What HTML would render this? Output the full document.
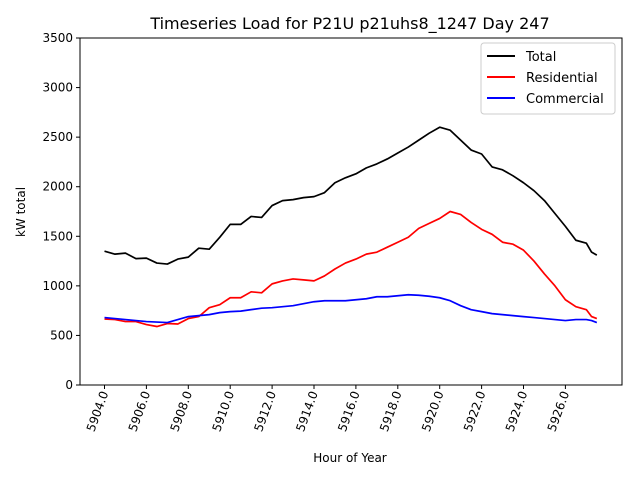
<!DOCTYPE html>
<html><head><meta charset="utf-8"><style>
body{margin:0;background:#fff;}
svg{font-family:"DejaVu Sans","Liberation Sans",sans-serif;}
</style></head><body>
<svg id="chart" width="640" height="480">
<rect width="640" height="480" fill="#fff"/>
<text x="350" y="29" font-size="16" text-anchor="middle">Timeseries Load for P21U p21uhs8_1247  Day 247</text>
<g id="plot"></g>
<text x="350" y="462" font-size="12" text-anchor="middle">Hour of Year</text>
<text transform="translate(25,212) rotate(-90)" font-size="12" text-anchor="middle">kW total</text>
<g>
<rect x="481" y="43" width="134" height="71" fill="#fff" stroke="#ccc" rx="3"/>
<g><line x1="487" y1="56" x2="515" y2="56" stroke="#000" stroke-width="2"/><text x="526" y="61" font-size="13">Total</text></g>
<g><line x1="487" y1="77" x2="515" y2="77" stroke="#f00" stroke-width="2"/><text x="526" y="82" font-size="13">Residential</text></g>
<g><line x1="487" y1="98" x2="515" y2="98" stroke="#00f" stroke-width="2"/><text x="526" y="103" font-size="13">Commercial</text></g>
</g>
</svg>
<script>
const hours=[5904,5904.5,5905,5905.5,5906,5906.5,5907,5907.5,5908,5908.5,5909,5909.5,5910,5910.5,5911,5911.5,5912,5912.5,5913,5913.5,5914,5914.5,5915,5915.5,5916,5916.5,5917,5917.5,5918,5918.5,5919,5919.5,5920,5920.5,5921,5921.5,5922,5922.5,5923,5923.5,5924,5924.5,5925,5925.5,5926,5926.5,5927,5927.25,5927.5];
const total=[1350,1320,1330,1275,1280,1230,1220,1270,1290,1380,1370,1490,1620,1620,1700,1690,1810,1860,1870,1890,1900,1940,2040,2090,2130,2190,2230,2280,2340,2400,2470,2540,2600,2570,2470,2370,2330,2200,2170,2110,2040,1960,1860,1730,1600,1460,1430,1340,1310];
const residential=[665,660,640,640,610,590,620,615,670,690,780,810,880,880,940,930,1020,1050,1070,1060,1050,1100,1170,1230,1270,1320,1340,1390,1440,1490,1580,1630,1680,1750,1720,1640,1570,1520,1440,1420,1360,1250,1120,1000,860,790,760,690,670];
const commercial=[680,670,660,650,640,635,630,660,690,700,710,730,740,745,760,775,780,790,800,820,840,850,850,850,860,870,890,890,900,910,905,895,880,850,800,760,740,720,710,700,690,680,670,660,650,660,660,650,630];
const yTicks=[0,500,1000,1500,2000,2500,3000,3500];
const xTicks=[5904,5906,5908,5910,5912,5914,5916,5918,5920,5922,5924,5926];
const L=80,R=622,T=38,B=385;
const xs=h=>104.5+(h-5904)*20.95;
const ys=v=>B-(v/3500)*(B-T);
const NS="http://www.w3.org/2000/svg";
const g=document.getElementById('plot');
function mk(tag,attrs){const e=document.createElementNS(NS,tag);for(const k in attrs)e.setAttribute(k,attrs[k]);g.appendChild(e);return e;}
const frame=mk('rect',{x:L,y:T,width:R-L,height:B-T,fill:'none',stroke:'#000','stroke-width':1});


yTicks.forEach(v=>{
 const y=ys(v);
 const t=mk('line',{x1:L-4,y1:y,x2:L,y2:y,stroke:'#000'});
 
 
 const lb=mk('text',{x:L-7,y:y+4,'font-size':12,'text-anchor':'end'});
 lb.textContent=v;
 
 
});
xTicks.forEach(h=>{
 const x=xs(h);
 const t=mk('line',{x1:x,y1:B,x2:x,y2:B+4,stroke:'#000'});
 
 
 const lb=mk('text',{transform:`translate(${x+4},${B+8}) rotate(-70)`,'font-size':12,'text-anchor':'end'});
 lb.textContent=h.toFixed(1);
 
 
});
[[total,'#000','total'],[residential,'#f00','residential'],[commercial,'#00f','commercial']].forEach(([arr,c,n])=>{
 const p=mk('polyline',{points:arr.map((v,i)=>xs(hours[i])+','+ys(v)).join(' '),fill:'none',stroke:c,'stroke-width':1.7,'stroke-linejoin':'round'});
 
 
});
</script>
</body></html>
